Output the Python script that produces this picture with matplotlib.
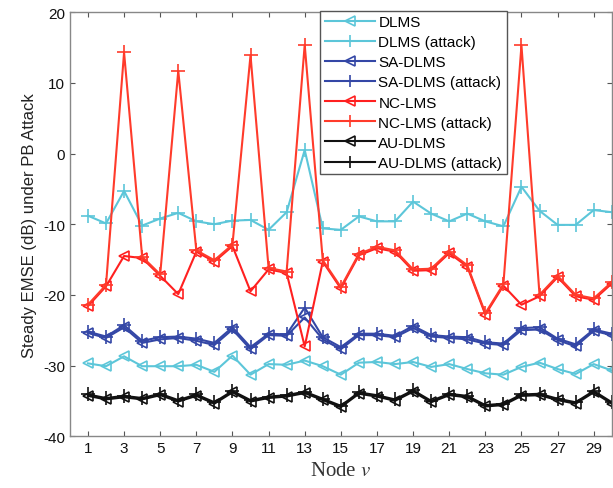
import numpy as np
import matplotlib
matplotlib.use("Agg")
import matplotlib.pyplot as plt

plt.rcParams['font.family'] = ['Liberation Sans', 'DejaVu Sans']
plt.rcParams['mathtext.fontset'] = 'stix'
plt.rcParams['axes.unicode_minus'] = False

nodes = np.arange(1, 31)

dlms = [-29.7, -30.1, -28.7, -30.1, -30.1, -30.1, -29.9, -30.9, -28.6, -31.3,
        -29.8, -29.9, -29.3, -30.1, -31.3, -29.6, -29.5, -29.8, -29.5, -30.2,
        -29.8, -30.5, -31.1, -31.3, -30.2, -29.6, -30.5, -31.2, -29.8, -30.7]
dlms_attack = [-8.8, -9.9, -5.3, -10.2, -9.2, -8.4, -9.6, -10.0, -9.5, -9.4,
               -10.8, -8.3, 0.5, -10.6, -10.8, -8.9, -9.6, -9.6, -6.8, -8.5,
               -9.6, -8.5, -9.6, -10.3, -4.7, -8.1, -10.1, -10.1, -8.0, -8.3]
sa_dlms = [-25.4, -26.1, -24.6, -26.8, -26.3, -26.1, -26.5, -27.1, -24.9, -27.7,
           -25.7, -25.8, -23.2, -26.3, -27.7, -25.7, -25.7, -26.0, -24.7, -25.9,
           -26.1, -26.3, -26.9, -27.1, -25.0, -24.9, -26.4, -27.3, -25.1, -25.7]
sa_dlms_attack = [-25.2, -25.9, -24.3, -26.5, -26.0, -25.9, -26.2, -26.8, -24.6, -27.4,
                  -25.5, -25.6, -21.8, -26.0, -27.4, -25.5, -25.5, -25.8, -24.4, -25.7,
                  -25.9, -26.0, -26.7, -26.9, -24.7, -24.6, -26.2, -27.0, -24.9, -25.5]
nc_lms = [-21.6, -18.8, -14.5, -14.8, -17.3, -19.9, -13.9, -15.3, -13.1, -19.5,
          -16.4, -16.9, -27.3, -15.3, -19.1, -14.4, -13.4, -13.9, -16.6, -16.5,
          -14.1, -16.0, -22.8, -18.7, -21.4, -20.2, -17.5, -20.2, -20.7, -18.4]
nc_lms_attack = [-21.4, -18.6, 14.3, -14.6, -17.1, 11.7, -13.7, -15.1, -12.9, 13.9,
                 -16.2, -16.7, 15.4, -15.1, -18.9, -14.2, -13.2, -13.7, -16.4, -16.3,
                 -13.9, -15.8, -22.6, -18.5, 15.3, -20.0, -17.3, -20.0, -20.5, -18.2]
au_dlms = [-34.3, -34.8, -34.5, -34.8, -34.2, -35.1, -34.3, -35.4, -33.8, -35.1,
           -34.6, -34.4, -33.9, -34.9, -35.9, -34.0, -34.4, -35.0, -33.7, -35.2,
           -34.2, -34.5, -35.8, -35.6, -34.3, -34.2, -34.9, -35.4, -33.8, -35.4]
au_dlms_attack = [-34.1, -34.6, -34.3, -34.6, -34.0, -34.9, -34.1, -35.2, -33.6, -34.9,
                  -34.4, -34.2, -33.7, -34.7, -35.7, -33.8, -34.2, -34.8, -33.5, -35.0,
                  -34.0, -34.3, -35.6, -35.4, -34.1, -34.0, -34.7, -35.2, -33.6, -35.2]

cyan = '#5CC6D9'
blue = '#3447A6'
red = '#FF2020'
red2 = '#FF3B2B'
black = '#111111'

series = [
    (dlms, 'DLMS', cyan, '<'),
    (dlms_attack, 'DLMS (attack)', cyan, '+'),
    (sa_dlms, 'SA-DLMS', blue, '<'),
    (sa_dlms_attack, 'SA-DLMS (attack)', blue, '+'),
    (nc_lms, 'NC-LMS', red, '<'),
    (nc_lms_attack, 'NC-LMS (attack)', red2, '+'),
    (au_dlms, 'AU-DLMS', black, '<'),
    (au_dlms_attack, 'AU-DLMS (attack)', black, '+'),
]

fig = plt.figure(figsize=(6.13, 4.89), dpi=100)
ax = fig.add_axes([0.114, 0.106, 0.884, 0.867])

for vals, label, color, marker in series:
    if marker == '<':
        ax.plot(nodes, vals, color=color, marker=marker, markersize=7.5,
                markerfacecolor='none', markeredgewidth=1.2, linewidth=1.5, label=label)
    else:
        ax.plot(nodes, vals, color=color, marker=marker, markersize=10,
                markeredgewidth=1.2, linewidth=1.5, label=label)

ax.set_xlim(0, 30)
ax.set_ylim(-40, 20)
ax.set_xticks(np.arange(1, 30, 2))
ax.set_yticks(np.arange(-40, 21, 10))
ax.tick_params(direction='in', top=True, right=True, labelsize=11,
               labelcolor='#111111', color='#555555')
for sp in ax.spines.values():
    sp.set_color('#888888')
    sp.set_linewidth(1.0)

ax.set_xlabel('Node $v$', fontsize=15, family='Liberation Serif', color='#333333')
ax.set_ylabel('Steady EMSE (dB) under PB Attack', fontsize=12, color='#222222')

leg = ax.legend(loc='upper left', bbox_to_anchor=(0.462, 1.004), fontsize=11,
                fancybox=False, framealpha=1, edgecolor='#555555',
                handlelength=3.3, borderpad=0.3, labelspacing=0.4,
                handletextpad=0.2, markerscale=0.9, numpoints=1,
                borderaxespad=0.0)
leg.get_frame().set_linewidth(1.0)

fig.savefig('out.png', dpi=100)
